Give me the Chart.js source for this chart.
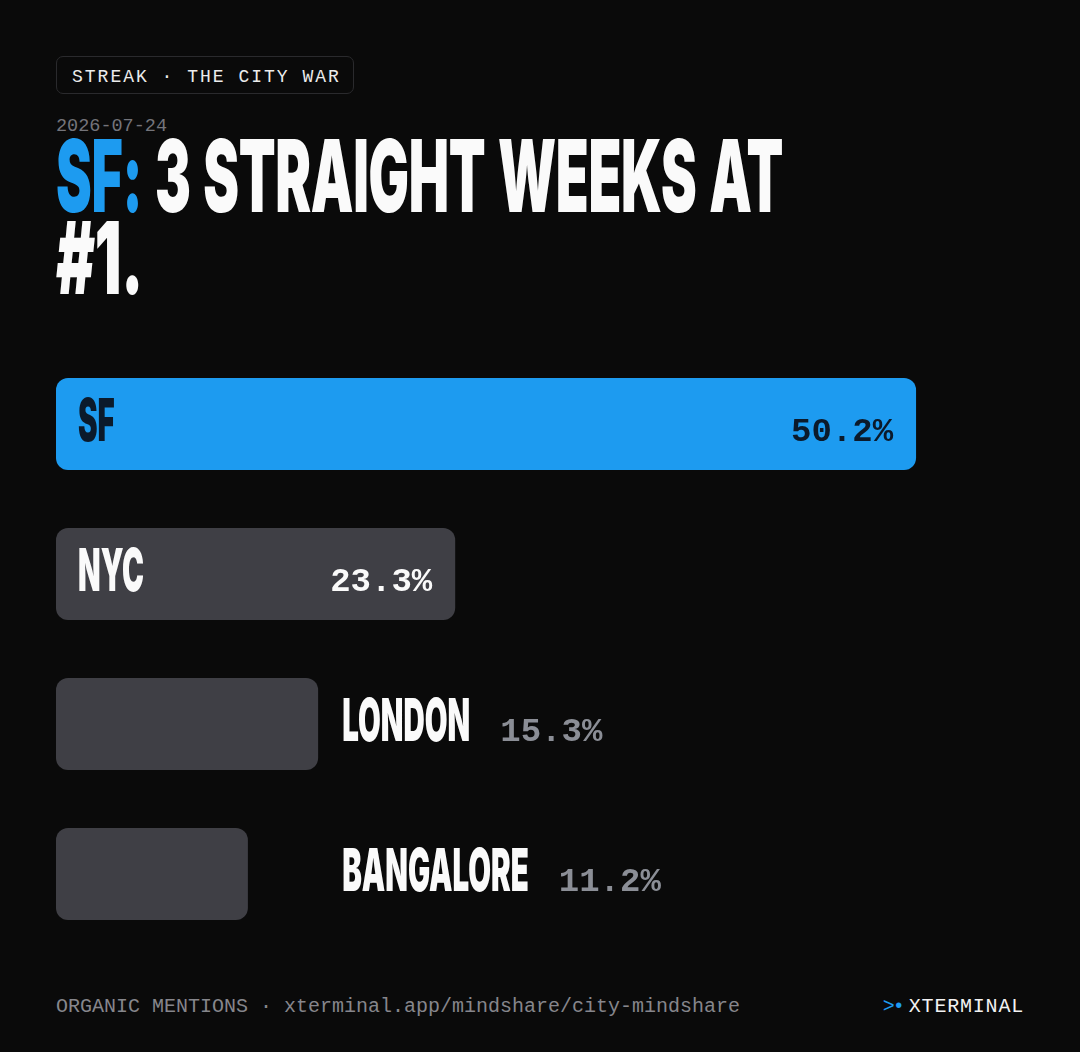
<!DOCTYPE html>
<html><head><meta charset="utf-8">
<script src="https://cdn.jsdelivr.net/npm/chart.js@4.4.1/dist/chart.umd.min.js"></script>
<style>
html,body{margin:0;padding:0;background:#0a0a0a;}
body{width:1080px;height:1052px;position:relative;overflow:hidden;}
.mono{font-family:"Liberation Mono","DejaVu Sans Mono",monospace;}
#tag{position:absolute;left:56px;top:56px;width:296px;height:36px;border:1px solid #2a2a2d;border-radius:7px;}
#tagtext{position:absolute;left:15px;top:2px;line-height:37px;font-size:18px;letter-spacing:2px;color:#ececec;white-space:nowrap;}
#date{position:absolute;left:56px;top:117px;font-size:18.5px;line-height:20px;color:#74747a;white-space:nowrap;}
.tl{position:absolute;left:56px;font-family:Inter,Roboto,"Liberation Sans",sans-serif;font-weight:900;font-size:100px;line-height:84px;white-space:nowrap;transform-origin:0 0;color:#fafafa;letter-spacing:-0.5px;word-spacing:4px;}
.blue{color:#1d9bf0;}
#chartbox{position:absolute;left:56px;top:349px;width:968px;height:600px;}
#footl{position:absolute;left:56px;top:997px;font-size:20px;line-height:20px;color:#86868c;white-space:nowrap;}
#footr{position:absolute;right:56px;top:997px;font-size:20px;line-height:20px;color:#f2f2f2;white-space:nowrap;letter-spacing:0.8px;}
#footr .blue{margin-right:6px;letter-spacing:-2px;}
</style>
</head>
<body>
<div id="tag"><span id="tagtext" class="mono">STREAK · THE CITY WAR</span></div>
<div id="date" class="mono">2026-07-24</div>
<div class="tl" id="t1" style="top:134px"><span class="blue">SF:</span> 3 STRAIGHT WEEKS AT</div>
<div class="tl" id="t2" style="top:216px">#1.</div>
<div id="chartbox"><canvas id="c"></canvas></div>
<div id="footl" class="mono">ORGANIC MENTIONS · xterminal.app/mindshare/city-mindshare</div>
<div id="footr" class="mono"><span class="blue">&gt;•</span>XTERMINAL</div>
<script>
// ---- data ----
const cities = ['SF', 'NYC', 'LONDON', 'BANGALORE'];
const shares = [50.2, 23.3, 15.3, 11.2];
const leaderIndex = 0;
const xMax = 56.5;
const insideMin = 20;

// ---- condensed title fit ----
const t1 = document.getElementById('t1');
const t2 = document.getElementById('t2');
const cond = 727 / t1.offsetWidth;
t1.style.transform = 'scaleX(' + cond + ')';
t2.style.transform = 'scaleX(' + (cond * 1.1) + ')';
const labelCond = cond * 0.93;

const COL_BLUE = '#1d9bf0', COL_GREY = '#3f3f45', COL_DARK = '#0b1a2b';
const barColors = cities.map((c, i) => i === leaderIndex ? COL_BLUE : COL_GREY);

const labelPlugin = {
  id: 'barLabels',
  afterDatasetsDraw(chart) {
    const ctx = chart.ctx;
    const meta = chart.getDatasetMeta(0);
    const outEnds = meta.data.filter((b, i) => shares[i] < insideMin).map(b => b.x);
    const outX = outEnds.length ? Math.max(...outEnds) + 24 : 0;
    meta.data.forEach((bar, i) => {
      const top = bar.y - bar.height / 2;
      const baseline = top + 63;
      const inside = shares[i] >= insideMin;
      const left = inside ? bar.base + 22 : outX;
      ctx.save();
      ctx.textBaseline = 'alphabetic';
      ctx.font = '900 59px Inter, Roboto, "Liberation Sans", sans-serif';
      ctx.fillStyle = i === leaderIndex ? COL_DARK : '#fafafa';
      const w = ctx.measureText(cities[i]).width * labelCond;
      ctx.translate(left, baseline);
      ctx.scale(labelCond, 1);
      ctx.textAlign = 'left';
      ctx.fillText(cities[i], 0, 0);
      ctx.restore();

      ctx.save();
      ctx.textBaseline = 'alphabetic';
      ctx.font = 'bold 34px "Liberation Mono", "DejaVu Sans Mono", monospace';
      const txt = shares[i].toFixed(1) + '%';
      if (inside) {
        ctx.textAlign = 'right';
        ctx.fillStyle = i === leaderIndex ? COL_DARK : '#fafafa';
        ctx.fillText(txt, bar.x - 23, baseline);
      } else {
        ctx.textAlign = 'left';
        ctx.fillStyle = '#8b8e96';
        ctx.fillText(txt, left + w + 30, baseline);
      }
      ctx.restore();
    });
  }
};

new Chart(document.getElementById('c'), {
  type: 'bar',
  data: {
    labels: cities,
    datasets: [{
      data: shares,
      backgroundColor: barColors,
      borderRadius: 12,
      borderSkipped: false,
      barPercentage: 92 / 150,
      categoryPercentage: 1
    }]
  },
  options: {
    indexAxis: 'y',
    responsive: true,
    maintainAspectRatio: false,
    animation: false,
    layout: { padding: 0 },
    plugins: { legend: { display: false }, tooltip: { enabled: false } },
    scales: {
      x: { display: false, min: 0, max: xMax },
      y: { display: false }
    }
  },
  plugins: [labelPlugin]
});
</script>
</body></html>
